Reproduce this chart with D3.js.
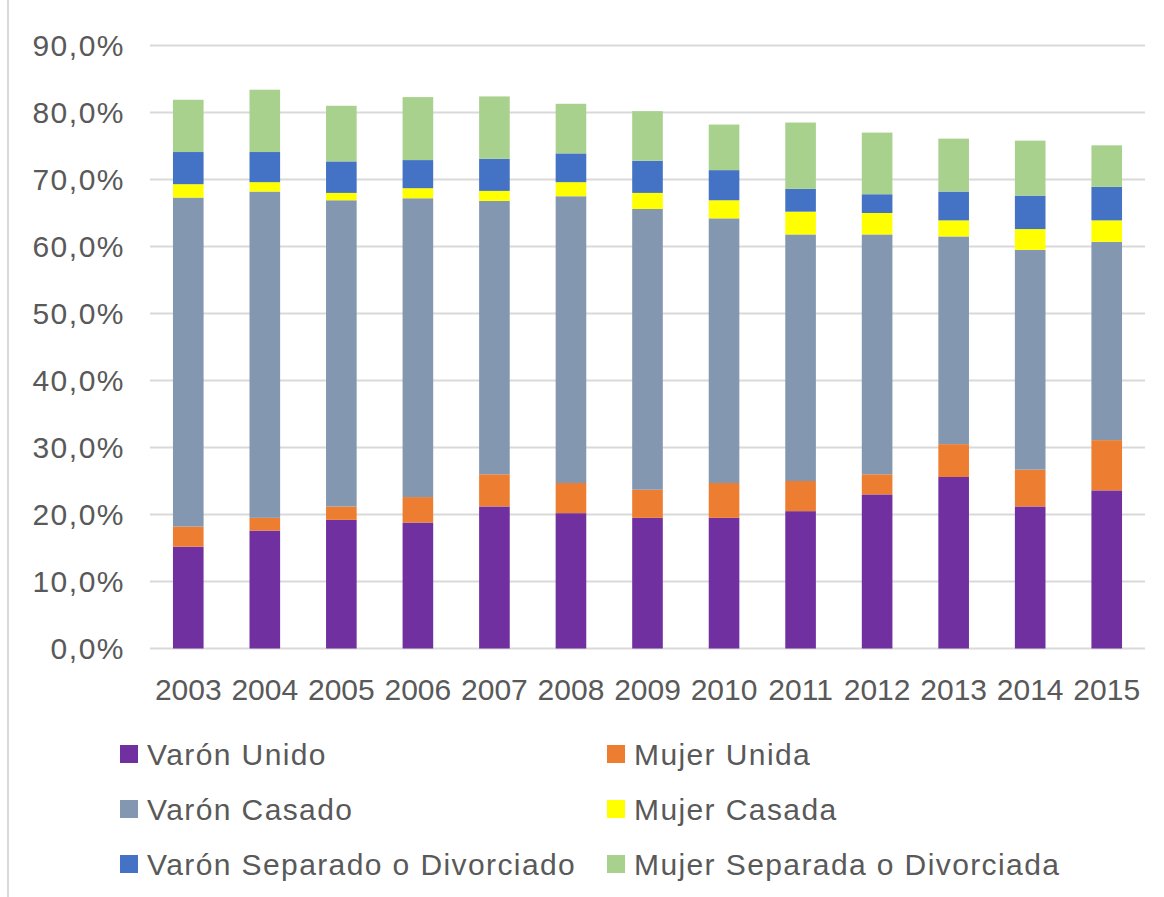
<!DOCTYPE html>
<html>
<head>
<meta charset="utf-8">
<script src="https://cdn.jsdelivr.net/npm/d3@7"></script>
<style>
  body { margin: 0; background: #fff; }
  svg { display: block; font-family: "Liberation Sans", Arial, sans-serif; }
</style>
</head>
<body>
<svg id="chart" width="1164" height="897"></svg>
<script>
const years = ['2003', '2004', '2005', '2006', '2007', '2008', '2009', '2010', '2011', '2012', '2013', '2014', '2015'];
const seriesNames = ['Varón Unido', 'Mujer Unida', 'Varón Casado', 'Mujer Casada', 'Varón Separado o Divorciado', 'Mujer Separada o Divorciada'];
const seriesColors = ['#7030a0', '#ed7d31', '#8497b0', '#ffff00', '#4472c4', '#a9d18e'];

// percentages
const varonUnido = [15.2, 17.6, 19.2, 18.8, 21.2, 20.2, 19.5, 19.5, 20.5, 23.0, 25.6, 21.2, 23.6];
const mujerUnida = [3.0, 1.9, 2.0, 3.8, 4.8, 4.5, 4.2, 5.2, 4.5, 3.0, 4.9, 5.5, 7.5];
const varonCasado = [49.1, 48.7, 45.7, 44.6, 40.8, 42.8, 41.9, 39.5, 36.8, 35.8, 31.0, 32.8, 29.6];
const mujerCasada = [2.0, 1.4, 1.1, 1.5, 1.5, 2.1, 2.4, 2.7, 3.4, 3.2, 2.4, 3.1, 3.2];
const varonSeparado = [4.8, 4.5, 4.7, 4.2, 4.8, 4.3, 4.8, 4.5, 3.4, 2.8, 4.3, 5.0, 5.0];
const mujerSeparada = [7.8, 9.3, 8.3, 9.4, 9.3, 7.4, 7.4, 6.8, 9.9, 9.2, 7.9, 8.2, 6.2];
const yTicks = [0, 10, 20, 30, 40, 50, 60, 70, 80, 90];

const allSeries = [varonUnido, mujerUnida, varonCasado, mujerCasada, varonSeparado, mujerSeparada];
const rows = years.map((year, i) => {
	const row = { year };
	seriesNames.forEach((name, s) => { row[name] = allSeries[s][i]; });
	return row;
});

const TEXT = '#595959';
const GRID = '#d9d9d9';

const svg = d3.select('#chart');

// light frame line on the left
svg.append('line')
	.attr('x1', 8).attr('x2', 8)
	.attr('y1', 0).attr('y2', 897)
	.attr('stroke', GRID)
	.attr('stroke-width', 2);

const x = d3.scaleBand()
	.domain(years)
	.range([150, 1145])
	.paddingInner(0.6)
	.paddingOuter(0.3);

const y = d3.scaleLinear()
	.domain([0, 90])
	.range([648.5, 45.5]);

// gridlines
svg.append('g')
	.selectAll('line')
	.data(yTicks)
	.enter()
	.append('line')
	.attr('x1', 150)
	.attr('x2', 1145)
	.attr('y1', (d) => y(d))
	.attr('y2', (d) => y(d))
	.attr('stroke', GRID)
	.attr('stroke-width', 2);

// y labels
svg.append('g')
	.selectAll('text')
	.data(yTicks)
	.enter()
	.append('text')
	.attr('x', 125)
	.attr('y', (d) => y(d) + 10.5)
	.attr('text-anchor', 'end')
	.attr('fill', TEXT)
	.attr('font-size', '30px')
	.attr('letter-spacing', '1.5px')
	.text((d) => d.toFixed(1).replace('.', ',') + '%');

// stacked bars
const stacked = d3.stack().keys(seriesNames)(rows);

svg.append('g')
	.selectAll('g')
	.data(stacked)
	.enter()
	.append('g')
	.attr('fill', (d, i) => seriesColors[i])
	.selectAll('rect')
	.data((d) => d)
	.enter()
	.append('rect')
	.attr('x', (d) => x(d.data.year))
	.attr('width', x.bandwidth())
	.attr('y', (d) => y(d[1]))
	.attr('height', (d) => y(d[0]) - y(d[1]));

// x labels
svg.append('g')
	.selectAll('text')
	.data(years)
	.enter()
	.append('text')
	.attr('x', (d) => x(d) + x.bandwidth() / 2)
	.attr('y', 700)
	.attr('text-anchor', 'middle')
	.attr('fill', TEXT)
	.attr('font-size', '30px')
	.text((d) => d);

// legend: two columns, three rows
const legend = svg.append('g')
	.selectAll('g')
	.data(seriesNames)
	.enter()
	.append('g')
	.attr('transform', (d, i) => `translate(${i % 2 === 0 ? 120 : 607},${745 + Math.floor(i / 2) * 55})`);

legend.append('rect')
	.attr('width', 18)
	.attr('height', 18)
	.attr('fill', (d, i) => seriesColors[i]);

legend.append('text')
	.attr('x', 27)
	.attr('y', 20)
	.attr('fill', TEXT)
	.attr('font-size', '30px')
	.attr('letter-spacing', '1.4px')
	.text((d) => d);
</script>
</body>
</html>
